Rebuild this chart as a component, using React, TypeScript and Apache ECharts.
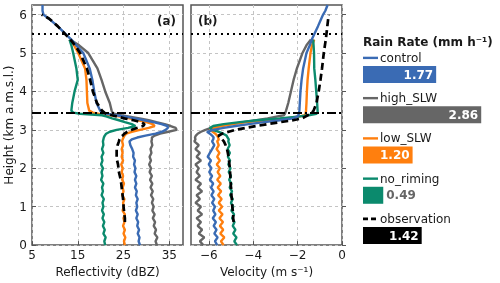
import React, { useEffect, useRef } from "react";
import * as echarts from "echarts";

// Heights (km a.m.s.l.) shared by all profiles
const heights = [
  0, 0.1, 0.2, 0.3, 0.4, 0.5, 0.6, 0.7, 0.8, 0.9, 1.0, 1.1, 1.2, 1.3, 1.4, 1.5, 1.6, 1.7, 1.8, 1.9, 2.0, 2.1, 2.2, 2.3, 2.4, 2.5, 2.6, 2.7,
  2.75, 2.8, 2.85, 2.9, 2.95, 3.0, 3.05, 3.1, 3.15, 3.2, 3.25, 3.3, 3.35, 3.38, 3.42, 3.45, 3.5,
  3.7, 4.0, 4.3, 4.6, 5.0, 5.2, 5.35, 5.5, 5.7, 5.9, 6.0, 6.1, 6.25,
];

// Reflectivity (dBZ)
const controlRefl = [
  28.6, 28.3, 28.5, 28.1, 28.4, 28.0, 28.2, 27.8, 28.1, 27.7, 28.0, 27.8, 28.1, 27.7, 27.9, 27.5, 27.8, 27.5, 27.8, 27.4, 27.6, 27.3, 27.5, 27.1, 27.2, 26.9, 26.5, 26.3,
  26.8, 28.0, 29.8, 32.0, 33.4, 34.2, 34.7, 34.6, 33.3, 31.5, 29.5, 27.5, 25.0, 23.3, 21.3, 20.3, 19.9,
  19.1, 18.6, 18.2, 17.6, 16.2, 14.7, 13.6, 12.3, 10.6, 8.6, 7.5, 7.3, 7.3,
];
const highSlwRefl = [
  32.3, 32.0, 32.4, 31.8, 32.1, 31.6, 31.9, 31.4, 31.8, 31.3, 31.6, 31.2, 31.5, 31.0, 31.4, 30.9, 31.3, 30.8, 31.2, 30.7, 31.0, 30.6, 31.0, 30.7, 31.1, 30.9, 31.3, 31.1,
  31.2, 31.2, 31.8, 33.0, 34.8, 36.6, 36.4, 35.3, 34.0, 32.2, 30.5, 28.5, 26.0, 24.5, 23.0, 22.6, 22.4,
  22.0, 21.0, 20.2, 19.3, 17.3, 15.3, 13.3, null, null, null, null, null, null,
];
const lowSlwRefl = [
  25.3, 25.1, 25.4, 25.0, 25.3, 24.9, 25.2, 25.0, 25.3, 24.8, 25.1, 24.9, 25.2, 24.7, 25.0, 24.8, 25.1, 24.7, 24.9, 24.6, 24.8, 24.5, 24.9, 24.6, 24.8, 24.6, 24.9, 24.7,
  24.8, 25.0, 25.2, 25.6, 26.8, 28.6, 30.5, 31.8, 31.4, 30.0, 28.2, 26.3, 24.0, 22.3, 19.5, 18.3, 17.5,
  17.1, 17.0, 16.9, 16.6, 15.1, 14.2, 13.2, null, null, null, null, null, null,
];
const noRimingRefl = [
  21.0, 20.8, 21.1, 20.6, 20.9, 20.5, 20.8, 20.4, 20.7, 20.3, 20.6, 20.4, 20.7, 20.2, 20.5, 20.3, 20.6, 20.1, 20.4, 20.2, 20.5, 20.1, 20.4, 20.2, 20.6, 20.3, 20.6, 20.5,
  20.6, 20.7, 20.9, 21.2, 22.0, 23.5, 26.0, 27.6, 26.8, 25.3, 24.0, 22.5, 21.2, 20.3, 15.5, 14.0, 13.6,
  13.8, 14.3, 15.0, 14.7, 14.0, 13.6, 13.2, null, null, null, null, null, null,
];
const observationRefl = [
  null, null, null, null, null, null, 25.3, 25.3, 25.2, 25.1, 25.0, 25.0, 24.9, 24.8, 24.7, 24.6, 24.5, 24.4, 24.2, 24.0, 23.9, 23.8, 23.6, 23.5, 23.5, 23.5, 23.7, 24.0,
  24.1, 24.3, 24.8, 25.2, 25.8, 26.8, 27.9, 29.3, 29.6, 28.8, 27.2, 25.2, 23.5, 22.5, 21.2, 20.8, 20.3,
  19.2, 18.3, 17.7, 17.0, 15.5, 14.4, 13.4, 12.2, 10.6, 8.7, 7.1, null, null,
];

// Doppler velocity (m/s)
const controlVel = [
  -5.62, -5.72, -5.6, -5.75, -5.65, -5.78, -5.68, -5.82, -5.7, -5.8, -5.72, -5.85, -5.75, -5.88, -5.78, -5.9, -5.8, -5.95, -5.85, -5.98, -5.88, -6.0, -5.9, -6.05, -5.95, -5.85, -5.75, -5.85,
  -5.8, -5.78, -5.85, -5.95, -6.08, -5.8, -5.33, -4.8, -4.2, -3.5, -2.8, -2.2, -2.0, -1.96, -1.94, -1.93, -1.92,
  -1.9, -1.87, -1.82, -1.75, -1.6, -1.45, -1.36, -1.24, -1.08, -0.93, -0.85, -0.75, -0.65,
];
const highSlwVel = [
  -6.25, -6.4, -6.2, -6.45, -6.3, -6.5, -6.35, -6.55, -6.3, -6.5, -6.35, -6.6, -6.4, -6.55, -6.3, -6.5, -6.35, -6.6, -6.4, -6.55, -6.45, -6.6, -6.35, -6.55, -6.4, -6.6, -6.45, -6.65,
  -6.6, -6.62, -6.58, -6.5, -6.35, -6.15, -5.9, -5.5, -5.0, -4.45, -3.85, -3.35, -2.9, -2.62, -2.57, -2.55, -2.52,
  -2.42, -2.3, -2.18, -2.03, -1.78, -1.6, -1.4, null, null, null, null, null, null,
];
const lowSlwVel = [
  -5.33, -5.45, -5.3, -5.48, -5.35, -5.5, -5.36, -5.52, -5.38, -5.55, -5.4, -5.55, -5.42, -5.58, -5.44, -5.6, -5.46, -5.62, -5.48, -5.6, -5.5, -5.64, -5.5, -5.62, -5.52, -5.65, -5.55, -5.62,
  -5.55, -5.58, -5.62, -5.7, -5.82, -5.95, -5.75, -5.45, -4.95, -4.3, -3.4, -2.55, -1.9, -1.68, -1.64, -1.63, -1.62,
  -1.6, -1.58, -1.55, -1.5, -1.42, -1.35, -1.25, null, null, null, null, null, null,
];
const noRimingVel = [
  -4.73, -4.85, -4.75, -4.9, -4.8, -4.92, -4.84, -4.95, -4.86, -4.98, -4.9, -5.0, -4.92, -5.04, -4.95, -5.06, -4.98, -5.08, -5.0, -5.1, -5.02, -5.12, -5.04, -5.14, -5.05, -5.15, -5.06, -5.12,
  -5.1, -5.15, -5.2, -5.35, -5.55, -5.85, -5.95, -5.8, -5.33, -4.6, -3.83, -2.8, -1.9, -1.5, -1.15, -1.1, -1.1,
  -1.12, -1.16, -1.2, -1.25, -1.26, -1.28, -1.3, null, null, null, null, null, null,
];
const observationVel = [
  null, null, null, null, null, null, -4.88, -4.9, -4.9, -4.92, -4.94, -4.95, -4.96, -4.98, -4.98, -5.0, -5.01, -5.02, -5.03, -5.04, -5.05, -5.07, -5.09, -5.11, -5.14, -5.18, -5.24, -5.32,
  -5.4, -5.5, -5.56, -5.4, -5.1, -4.8, -4.35, -3.85, -3.35, -2.8, -2.2, -1.8, -1.63, -1.55, -1.4, -1.35, -1.28,
  -1.15, -1.05, -0.97, -0.9, -0.82, -0.77, -0.73, -0.7, -0.66, -0.62, -0.6, null, null,
];

// Rain rates (mm/h)
const runNames = ["control", "high_SLW", "low_SLW", "no_riming", "observation"];
const rainRates = [1.77, 2.86, 1.2, 0.49, 1.42];

// Reference levels (km)
const cloudTopLevel = 5.5;
const meltingLevel = 3.44;

// Tick values
const heightTicks = [0, 1, 2, 3, 4, 5, 6];
const reflTicks = [5, 15, 25, 35];
const velTicks = [-6, -4, -2, 0];

const colors = ["#3a6bb4", "#666666", "#ff7f0e", "#0b8a6d", "#000000"];
const FONT = "DejaVu Sans";
const TXT = "#1a1a1a";

function pairs(vals: (number | null)[]) {
  const out: number[][] = [];
  vals.forEach((v, i) => {
    if (v !== null) out.push([v, heights[i]]);
  });
  return out;
}

const fmtMinus = (v: number) => (v < 0 ? "\u2212" + Math.abs(v) : String(v));

export default function App() {
  const ref = useRef<HTMLDivElement>(null);
  useEffect(() => {
    const chart = echarts.init(ref.current!, null, { renderer: "svg" });
    const splitLine = { show: true, lineStyle: { color: "#c4c4c4", type: [3, 3] as any, width: 1 } };
    const tick = (vals: number[]) => ({ show: true, inside: true, length: 4, customValues: vals, lineStyle: { color: "#555", width: 1 } });
    const gridStyle = { show: true, borderColor: "#555", borderWidth: 1.5, backgroundColor: "transparent" };

    const order = [1, 2, 3, 0, 4];
    const reflSets = [controlRefl, highSlwRefl, lowSlwRefl, noRimingRefl, observationRefl];
    const velSets = [controlVel, highSlwVel, lowSlwVel, noRimingVel, observationVel];

    const refLines = {
      silent: true,
      symbol: "none",
      label: { show: false },
      animation: false,
      data: [
        { yAxis: cloudTopLevel, lineStyle: { color: "#000", width: 2, type: [2, 4] } },
        { yAxis: meltingLevel, lineStyle: { color: "#000", width: 2, type: [9, 3, 2, 3] } },
      ],
    };

    const lineSeries: any[] = [];
    [0, 1].forEach((panel) => {
      order.forEach((k) => {
        const isObs = k === 4;
        lineSeries.push({
          type: "line",
          name: runNames[k],
          xAxisIndex: panel,
          yAxisIndex: panel,
          data: pairs(panel === 0 ? reflSets[k] : velSets[k]),
          showSymbol: false,
          symbol: "none",
          lineStyle: { color: colors[k], width: isObs ? 2.7 : 2.4, type: isObs ? [7, 4] : "solid" },
          z: isObs ? 4 : 3,
          markLine: isObs ? refLines : undefined,
        });
      });
    });

    const barData = rainRates.map((v, i) => ({
      value: v,
      itemStyle: { color: colors[i] },
      label:
        v < 0.8
          ? { show: true, position: "right", distance: 3, color: "#666", fontWeight: "bold", fontSize: 12, fontFamily: FONT, formatter: (p: any) => p.value.toFixed(2) }
          : { show: true, position: "insideRight", distance: 3, color: "#fff", fontWeight: "bold", fontSize: 12, fontFamily: FONT, formatter: (p: any) => p.value.toFixed(2) },
    }));

    const barTop = 54.4;
    const band = 40.25;
    const legendGraphics: any[] = [
      {
        type: "text",
        left: 363,
        top: 36,
        style: { text: "Rain Rate (mm h\u207B\u00B9)", fontFamily: FONT, fontWeight: "bold", fontSize: 12, fill: TXT },
      },
    ];
    runNames.forEach((nm, i) => {
      const y = barTop + band * i + 3.5;
      legendGraphics.push({
        type: "line",
        shape: { x1: 363, y1: y, x2: 378, y2: y },
        style: { stroke: colors[i], lineWidth: i === 4 ? 2.7 : 2.4, lineDash: i === 4 ? [5, 3] : null },
      });
      legendGraphics.push({
        type: "text",
        x: 380,
        y: y,
        style: { text: nm, fontFamily: FONT, fontSize: 12, fill: TXT, verticalAlign: "middle", align: "left" },
      });
    });
    legendGraphics.push(
      { type: "text", x: 157, y: 21, style: { text: "(a)", fontFamily: FONT, fontWeight: "bold", fontSize: 12, fill: TXT, verticalAlign: "middle" } },
      { type: "text", x: 198, y: 21, style: { text: "(b)", fontFamily: FONT, fontWeight: "bold", fontSize: 12, fill: TXT, verticalAlign: "middle" } }
    );

    chart.setOption({
      animation: false,
      textStyle: { fontFamily: FONT },
      grid: [
        { left: 32, top: 5, width: 151, height: 241, ...gridStyle },
        { left: 191, top: 5, width: 151, height: 241, ...gridStyle },
        { left: 363, top: barTop, width: 124, height: band * 5 },
      ],
      xAxis: [
        {
          gridIndex: 0, type: "value", min: 5, max: 38,
          name: "Reflectivity (dBZ)", nameLocation: "middle", nameGap: 19,
          nameTextStyle: { fontSize: 12, color: TXT, fontFamily: FONT },
          axisLine: { show: false }, axisTick: tick(reflTicks),
          axisLabel: { customValues: reflTicks, fontSize: 12, color: TXT, margin: 4, fontFamily: FONT },
          splitLine,
        },
        {
          gridIndex: 1, type: "value", min: -6.8, max: 0,
          name: "Velocity (m s\u207B\u00B9)", nameLocation: "middle", nameGap: 19,
          nameTextStyle: { fontSize: 12, color: TXT, fontFamily: FONT },
          axisLine: { show: false }, axisTick: tick(velTicks),
          axisLabel: { customValues: velTicks, fontSize: 12, color: TXT, margin: 4, fontFamily: FONT, formatter: fmtMinus },
          splitLine,
        },
        { gridIndex: 2, type: "value", min: 0, max: 3, show: false },
      ],
      yAxis: [
        {
          gridIndex: 0, type: "value", min: 0, max: 6.25,
          name: "Height (km a.m.s.l.)", nameLocation: "middle", nameGap: 15,
          nameTextStyle: { fontSize: 12, color: TXT, fontFamily: FONT },
          axisLine: { show: false }, axisTick: tick(heightTicks),
          axisLabel: { customValues: heightTicks, fontSize: 12, color: TXT, margin: 5, fontFamily: FONT },
          splitLine,
        },
        {
          gridIndex: 1, type: "value", min: 0, max: 6.25,
          axisLine: { show: false }, axisTick: tick(heightTicks),
          axisLabel: { show: false, customValues: heightTicks },
          splitLine,
        },
        { gridIndex: 2, type: "category", data: runNames, inverse: true, show: false },
      ],
      series: [
        ...lineSeries,
        {
          type: "bar",
          xAxisIndex: 2,
          yAxisIndex: 2,
          barWidth: 17,
          data: barData,
        },
      ],
      graphic: legendGraphics,
    });
    return () => chart.dispose();
  }, []);
  return <div ref={ref} style={{ position: "fixed", left: 0, top: 0, width: 500, height: 283 }} />;
}
